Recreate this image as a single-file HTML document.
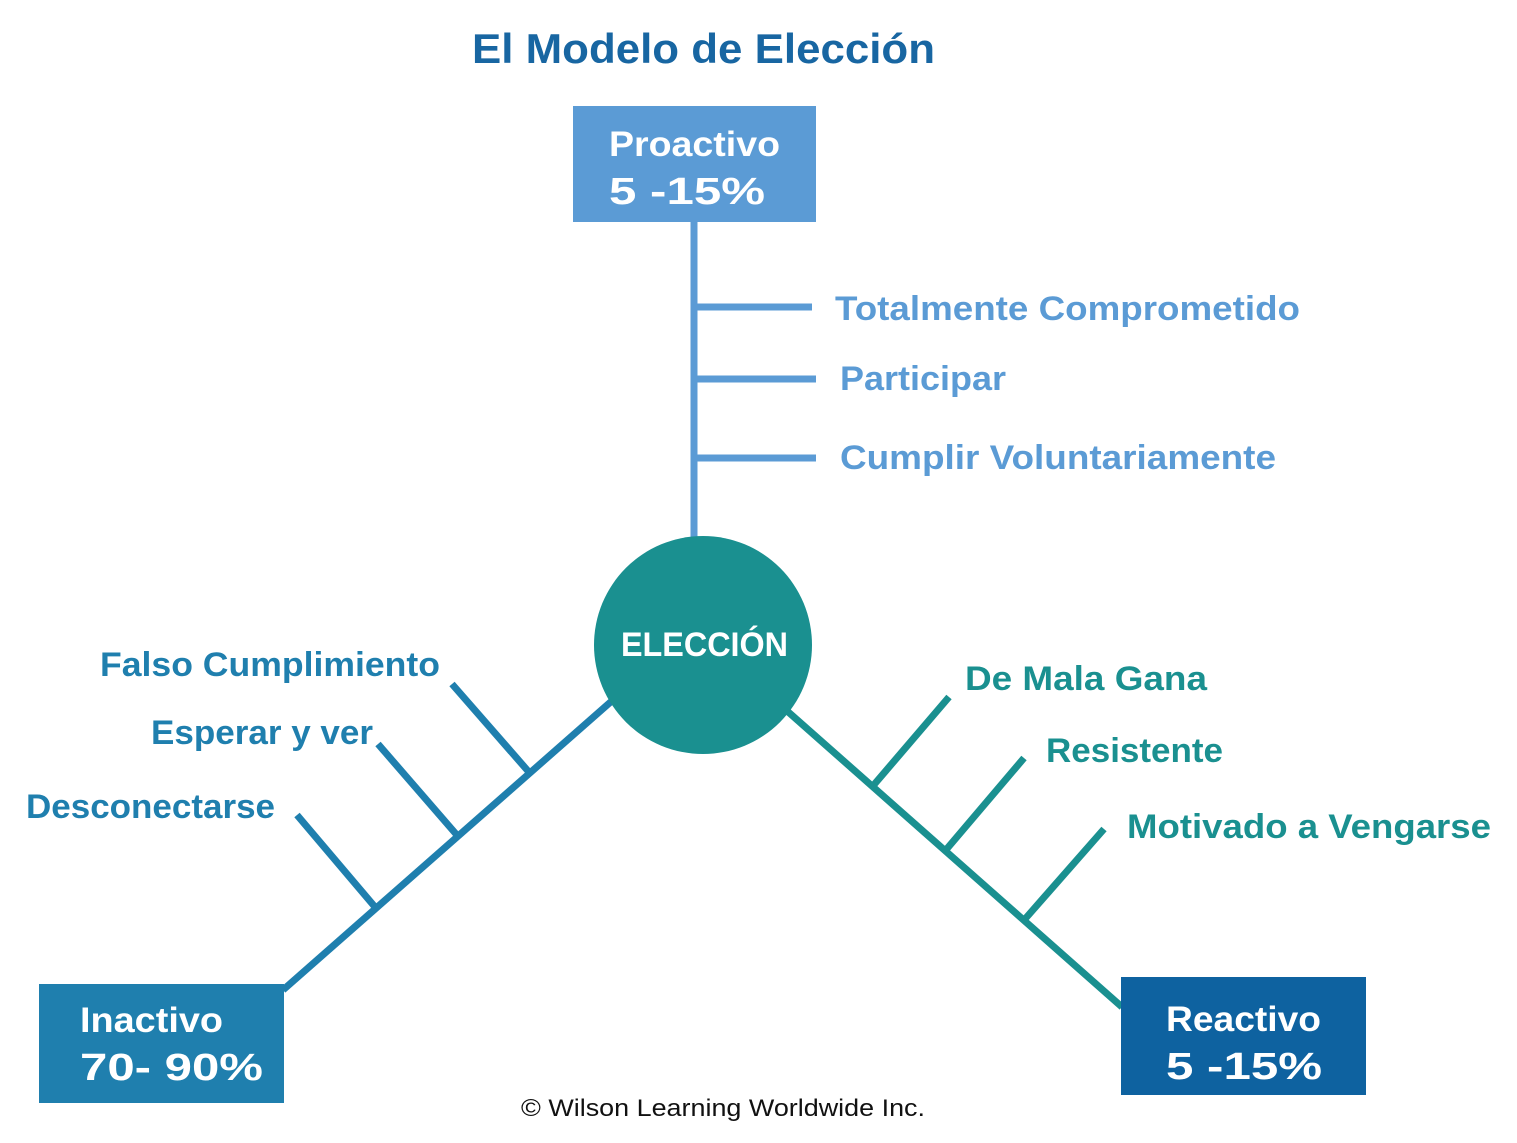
<!DOCTYPE html>
<html><head><meta charset="utf-8"><style>
html,body{margin:0;padding:0;background:#fff;}
svg{display:block;}
text{font-family:"Liberation Sans",sans-serif;font-weight:bold;}
</style></head><body>
<svg width="1517" height="1143" viewBox="0 0 1517 1143" xmlns="http://www.w3.org/2000/svg">
<text x="472" y="63" font-size="42" fill="#1866a2" textLength="463" lengthAdjust="spacingAndGlyphs">El Modelo de Elección</text>

<!-- Proactivo -->
<rect x="573" y="106" width="243" height="116" fill="#5b9bd5"/>
<text x="609" y="156" font-size="35" fill="#fff" textLength="171" lengthAdjust="spacingAndGlyphs">Proactivo</text>
<text x="609" y="204" font-size="38" fill="#fff" textLength="156" lengthAdjust="spacingAndGlyphs">5 -15%</text>
<g stroke="#5b9bd5" stroke-width="7" fill="none">
<line x1="694" y1="222" x2="694" y2="540"/>
<line x1="691" y1="307" x2="812" y2="307"/>
<line x1="694" y1="379" x2="816" y2="379"/>
<line x1="694" y1="458" x2="816" y2="458"/>
</g>
<g font-size="34" fill="#5b9bd5">
<text x="835" y="320" textLength="465" lengthAdjust="spacingAndGlyphs">Totalmente Comprometido</text>
<text x="840" y="390" textLength="166" lengthAdjust="spacingAndGlyphs">Participar</text>
<text x="840" y="469" textLength="436" lengthAdjust="spacingAndGlyphs">Cumplir Voluntariamente</text>
</g>

<!-- Inactivo -->
<g stroke="#1f7fae" stroke-width="7" fill="none">
<line x1="614" y1="699" x2="283" y2="990"/>
<line x1="528" y1="771" x2="452" y2="684"/>
<line x1="456" y1="834" x2="378" y2="744"/>
<line x1="375" y1="907" x2="297" y2="815"/>
</g>
<rect x="39" y="984" width="245" height="119" fill="#1f7fae"/>
<text x="80" y="1032" font-size="35" fill="#fff" textLength="143" lengthAdjust="spacingAndGlyphs">Inactivo</text>
<text x="80" y="1080" font-size="38" fill="#fff" textLength="183" lengthAdjust="spacingAndGlyphs">70- 90%</text>
<g font-size="34" fill="#1f7fae">
<text x="100" y="676" textLength="340" lengthAdjust="spacingAndGlyphs">Falso Cumplimiento</text>
<text x="151" y="744" textLength="222" lengthAdjust="spacingAndGlyphs">Esperar y ver</text>
<text x="26" y="818" textLength="249" lengthAdjust="spacingAndGlyphs">Desconectarse</text>
</g>

<!-- Reactivo -->
<g stroke="#1a9090" stroke-width="7" fill="none">
<line x1="786" y1="710" x2="1122" y2="1007"/>
<line x1="872" y1="787" x2="949" y2="697"/>
<line x1="945" y1="851" x2="1024" y2="758"/>
<line x1="1025" y1="919" x2="1104" y2="829"/>
</g>
<rect x="1121" y="977" width="245" height="118" fill="#0e62a0"/>
<text x="1166" y="1031" font-size="35" fill="#fff" textLength="155" lengthAdjust="spacingAndGlyphs">Reactivo</text>
<text x="1166" y="1079" font-size="38" fill="#fff" textLength="156" lengthAdjust="spacingAndGlyphs">5 -15%</text>
<g font-size="34" fill="#1a9090">
<text x="965" y="690" textLength="242" lengthAdjust="spacingAndGlyphs">De Mala Gana</text>
<text x="1046" y="762" textLength="177" lengthAdjust="spacingAndGlyphs">Resistente</text>
<text x="1127" y="838" textLength="364" lengthAdjust="spacingAndGlyphs">Motivado a Vengarse</text>
</g>

<!-- Circle -->
<circle cx="703" cy="645" r="109" fill="#1a9090"/>
<text x="621" y="656" font-size="34" fill="#fff" textLength="167" lengthAdjust="spacingAndGlyphs">ELECCIÓN</text>

<text x="521" y="1116" font-size="24" font-weight="normal" style="font-weight:normal" fill="#111" textLength="404" lengthAdjust="spacingAndGlyphs">© Wilson Learning Worldwide Inc.</text>
</svg>
</body></html>
